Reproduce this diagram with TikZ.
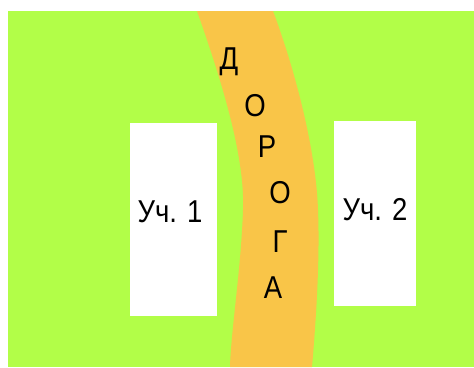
\documentclass[tikz,border=0pt]{standalone}
\usepackage{fontspec}
\setmainfont{Liberation Sans}
\definecolor{grass}{RGB}{178,254,72}
\definecolor{road}{RGB}{249,197,72}
\newcommand{\tallt}[1]{\scalebox{1}[1.15]{#1}}
\begin{document}
\begin{tikzpicture}[x=1pt,y=-1pt,
  plot/.style={fill=white,draw=none},
  lbl/.style={font=\fontsize{27.5}{27.5}\selectfont,inner sep=0pt,text=black},
  roadletter/.style={font=\fontsize{27.5}{27.5}\selectfont,inner sep=0pt,text=black}]
\useasboundingbox (0,0) rectangle (474,367);
\fill[white] (0,0) rectangle (474,367);
\fill[grass] (8,11) rectangle (474,367);
\fill[road] (197,11) .. controls (225,90) and (245,160) .. (243,210)
  .. controls (241,270) and (231,330) .. (230,367)
  -- (312,367) .. controls (316,320) and (320,260) .. (318,210)
  .. controls (316,150) and (295,70) .. (273,11) -- cycle;
\node[plot,minimum width=87pt,minimum height=193pt,inner sep=0pt] (u1) at (173.5,219.5) {};
\node[plot,minimum width=82pt,minimum height=185pt,inner sep=0pt] (u2) at (375,213.5) {};
\node[lbl] (t1) at (170,212) {\tallt{Уч. 1}};
\node[lbl] (t2) at (375,210) {\tallt{Уч. 2}};
\node[roadletter] (r1) at (229,62) {\tallt{Д}};
\node[roadletter] (r2) at (255,106) {\tallt{О}};
\node[roadletter] (r3) at (267,147) {\tallt{Р}};
\node[roadletter] (r4) at (280,193) {\tallt{О}};
\node[roadletter] (r5) at (280,242) {\tallt{Г}};
\node[roadletter] (r6) at (273,288) {\tallt{А}};
\end{tikzpicture}
\end{document}
